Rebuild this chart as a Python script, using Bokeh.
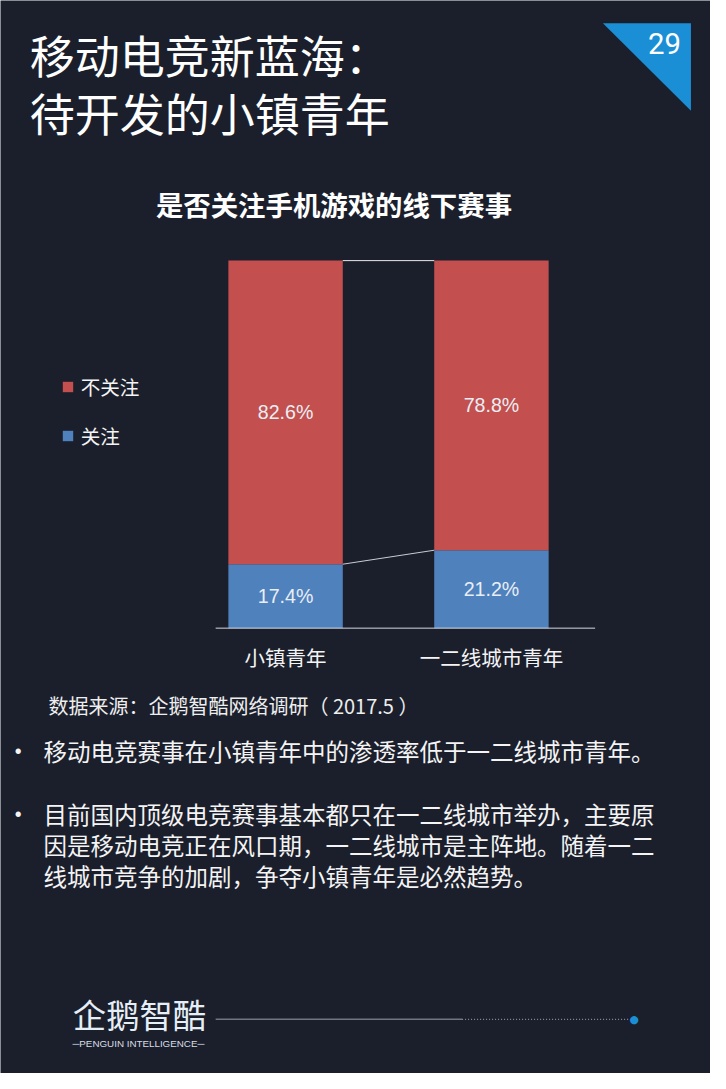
from bokeh.plotting import figure
from bokeh.models import (ColumnDataSource, Label, LabelSet, Legend, LegendItem,
                          PolyAnnotation, Arrow, Range1d)
from bokeh.embed import file_html
from bokeh.resources import INLINE
from bokeh.core.properties import value

# ---------------- data ----------------
categories = ["小镇青年", "一二线城市青年"]
series_names = ["关注", "不关注"]
attention = [17.4, 21.2]
no_attention = [82.6, 78.8]

page_title = ["移动电竞新蓝海：", "待开发的小镇青年"]
page_number = "29"
chart_title = "是否关注手机游戏的线下赛事"
source_note = "数据来源：企鹅智酷网络调研（  2017.5 ）"
bullet_1 = ["移动电竞赛事在小镇青年中的渗透率低于一二线城市青年。"]
bullet_2 = ["目前国内顶级电竞赛事基本都只在一二线城市举办，主要原",
            "因是移动电竞正在风口期，一二线城市是主阵地。随着一二",
            "线城市竞争的加剧，争夺小镇青年是必然趋势。"]
logo_text = "企鹅智酷"
logo_sub = "─PENGUIN INTELLIGENCE─"

# ---------------- layout / style ----------------
RW, RH = 726, 1089                        # reference slide size
W, H = 710, 1073                          # figure size
SX, SY = W / RW, H / RH
FL, FR, FT, FB = 220, 608, 264, 637       # chart area (slide pixels)
C0, STEP = 291.5, 210.5                   # first category centre, category spacing
BW = 117 / STEP                           # bar width in category units

BG = "#1b1f2c"
RED = "#c3504e"
BLUE = "#4f81bd"
CJK = "Noto Sans CJK SC"


def X(px):
    return (px - C0) / STEP


def Y(py):
    return (FB - py) / (FB - FT) * 100


def fs(size):
    return f"{size * SX:.1f}px"


p = figure(width=W, height=H, output_backend="svg", toolbar_location=None,
           x_range=Range1d(X(0), X(RW)), y_range=Range1d(Y(RH), Y(0)),
           x_axis_location=None, y_axis_location=None, min_border=0,
           background_fill_color=BG, border_fill_color=BG,
           outline_line_color=None)
p.grid.visible = False

n = len(categories)
xs = list(range(n))
src = ColumnDataSource(dict(x=xs, attn=attention, noattn=no_attention))
rs = p.vbar_stack(["attn", "noattn"], x="x", width=BW, color=[BLUE, RED],
                  line_color=None, source=src)

# category axis line and labels
p.segment(x0=[X(FL)], y0=[0], x1=[X(FR)], y1=[0], line_color="#d5d9e0", line_width=1)
p.add_layout(LabelSet(x="x", y="y", text="text",
                      source=ColumnDataSource(dict(x=xs, y=[Y(666)] * n, text=categories)),
                      text_align="center", text_baseline="middle",
                      text_color="#f4f4f4", text_font_size=fs(21),
                      text_font=value(CJK)))

# series lines between the bars
half = BW / 2
p.segment(x0=[i + half for i in range(n - 1)], y0=attention[:-1],
          x1=[i - half for i in range(1, n)], y1=attention[1:],
          line_color="#c9ccd3", line_width=1)
tops = [a + b for a, b in zip(attention, no_attention)]
p.segment(x0=[i + half for i in range(n - 1)], y0=tops[:-1],
          x1=[i - half for i in range(1, n)], y1=tops[1:],
          line_color="#e8e8e8", line_width=1)

# value labels
lx, ly, lt = [], [], []
for i in range(n):
    lx += [i, i]
    ly += [attention[i] / 2, attention[i] + no_attention[i] / 2]
    lt += [f"{attention[i]:.1f}%", f"{no_attention[i]:.1f}%"]
p.add_layout(LabelSet(x="x", y="y", text="text",
                      source=ColumnDataSource(dict(x=lx, y=ly, text=lt)),
                      text_align="center", text_baseline="middle",
                      text_color="#e9eef5", text_font_size=fs(20),
                      text_font=value("Liberation Sans")))

# legend: location = bottom-left corner, screen px from the frame's bottom-left
legend = Legend(items=[LegendItem(label=series_names[1], renderers=[rs[1]]),
                       LegendItem(label=series_names[0], renderers=[rs[0]])],
                location=(62 * SX, (RH - 457) * SY),
                padding=0, margin=0, spacing=20,
                glyph_width=13, glyph_height=13, label_standoff=7,
                label_text_font=CJK, label_text_font_size=fs(20),
                label_text_color="#f4f4f4",
                background_fill_alpha=0, border_line_color=None)
p.add_layout(legend)


def add_label(text, px, py, size, color="#f4f4f4", bold=False, align="left", font=CJK):
    p.add_layout(Label(x=X(px), y=Y(py), text=text, text_font=font,
                       text_font_size=fs(size), text_color=color,
                       text_align=align, text_baseline="middle",
                       text_font_style="bold" if bold else "normal"))


# page title
add_label(page_title[0], 30, 55, 46, color="white")
add_label(page_title[1], 30, 114, 46, color="white")

# page number triangle
p.add_layout(PolyAnnotation(xs=[X(616), X(706), X(706)], ys=[Y(23), Y(23), Y(112)],
                            fill_color="#1b8fd6", fill_alpha=1, line_color=None))
add_label(page_number, 679, 44, 30, color="white", align="center", font="Roboto")

# chart title
add_label(chart_title, 341, 207, 28, color="white", bold=True, align="center")

# source note
add_label(source_note, 49, 716, 20.5, color="#eeeeee")

# bullets
add_label("•", 18, 762, 20, align="center", font="Liberation Sans")
add_label(bullet_1[0], 44, 762, 24)
add_label("•", 18, 826, 20, align="center", font="Liberation Sans")
for k, line in enumerate(bullet_2):
    add_label(line, 44, 826 + k * 31.5, 24)

# footer logo and line
add_label(logo_text, 74, 1028, 34, color="#e6eef6")
add_label(logo_sub, 141, 1059, 10, color="#d8dde5", align="center", font="Liberation Sans")
p.add_layout(Arrow(end=None, x_start=X(220), y_start=Y(1034), x_end=X(472), y_end=Y(1034),
                   line_color="#6f7682", line_width=1.5))
p.add_layout(Arrow(end=None, x_start=X(472), y_start=Y(1034), x_end=X(644), y_end=Y(1034),
                   line_color="#8a909a", line_width=1.2, line_dash="1 2"))
add_label("●", 648, 1034, 11, color="#1b8fd6", align="center", font="DejaVu Sans")

open("out.html", "w").write(file_html(p, INLINE))
